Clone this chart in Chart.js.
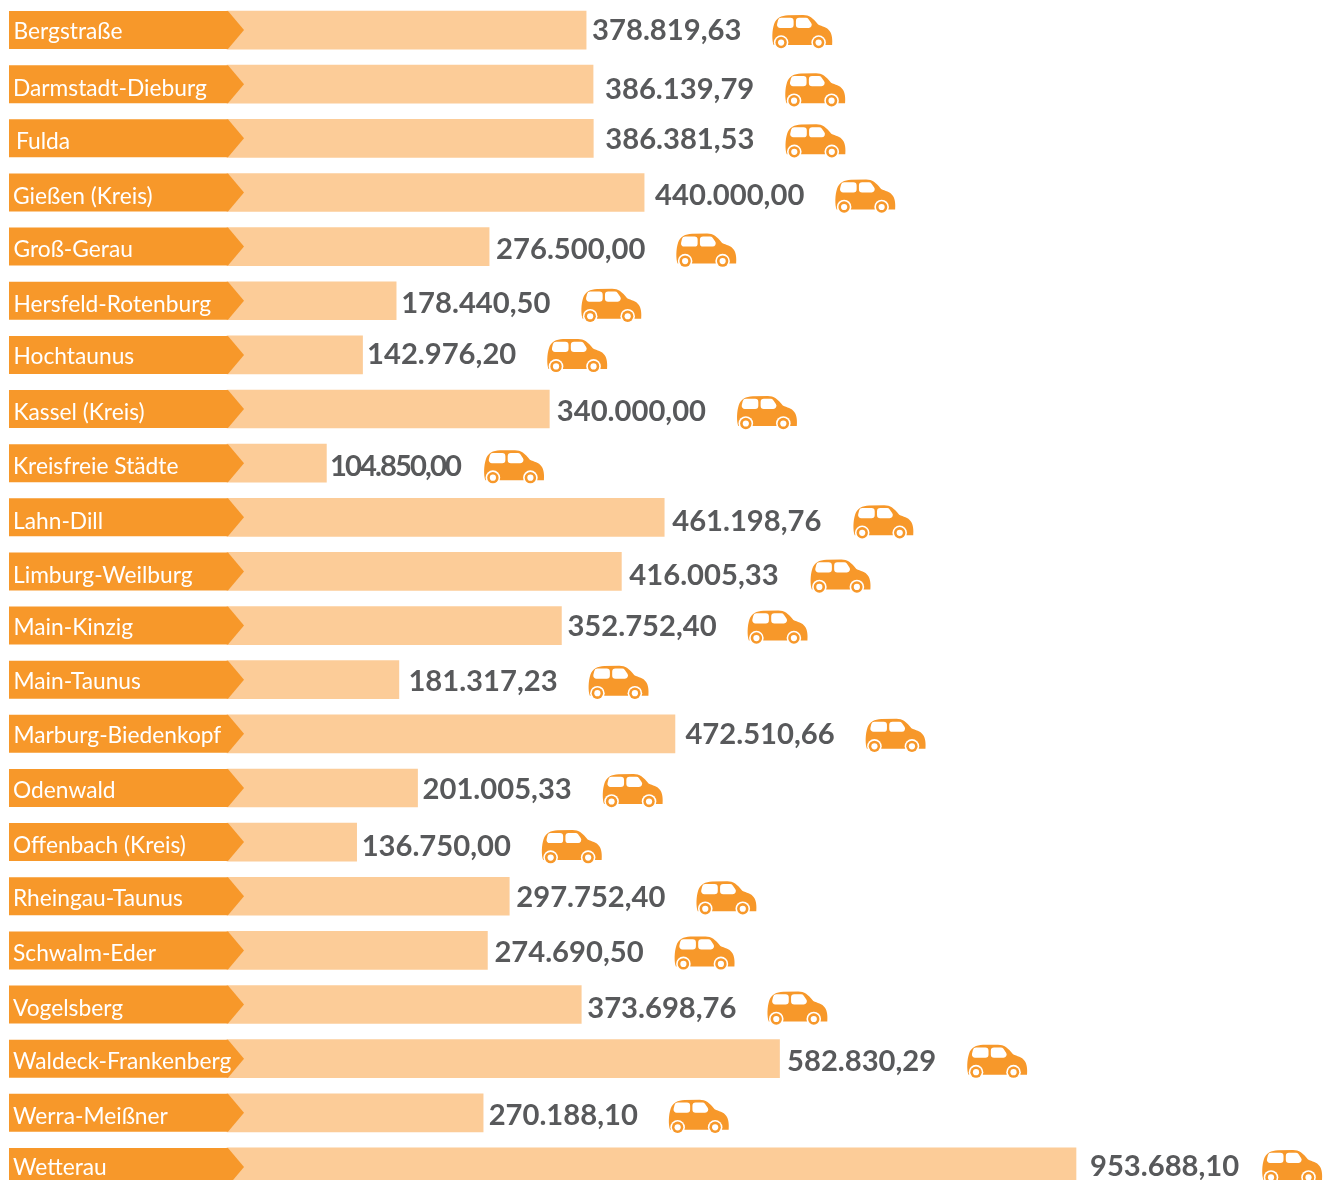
<!DOCTYPE html>
<html lang="de"><head><meta charset="utf-8">
<style>html,body{margin:0;padding:0;background:#fff;overflow:hidden;width:1332px;height:1180px}canvas{position:absolute;left:0;top:0;display:block}</style>
<script src="https://cdn.jsdelivr.net/npm/chart.js@4/dist/chart.umd.min.js"></script>
</head><body><canvas id="c" width="1332" height="1197"></canvas>
<script>
const categories = ["Bergstraße","Darmstadt-Dieburg","Fulda","Gießen (Kreis)","Groß-Gerau","Hersfeld-Rotenburg","Hochtaunus","Kassel (Kreis)","Kreisfreie Städte","Lahn-Dill","Limburg-Weilburg","Main-Kinzig","Main-Taunus","Marburg-Biedenkopf","Odenwald","Offenbach (Kreis)","Rheingau-Taunus","Schwalm-Eder","Vogelsberg","Waldeck-Frankenberg","Werra-Meißner","Wetterau"];
const values = [378819.63,386139.79,386381.53,440000,276500,178440.5,142976.2,340000,104850,461198.76,416005.33,352752.4,181317.23,472510.66,201005.33,136750,297752.4,274690.5,373698.76,582830.29,270188.1,953688.1];

// Layout details of the infographic, kept apart from the data
const valueGap = [6,12,12,11,7,5,4.5,7.5,3.5,8,8,6,9.5,10.5,5,5,7,7,6,7.5,5.5,14];
const carGap = [180,180,180,180,180,180,180,180,154,181,181,180,180,180,180,180,180,180,180,180,180,172];
const labelDy = [2,4,3,4,3,4,2,4,3,4,4,2,2,2,3,4,2,3,4,3,4,1];
const valueDy = [1,5,1,3,3,3,0,3,3,4,4,1,2,1,2,4,1,2,4,3,3,0];
const carDy = [1,5,2,3,3,4,0,3,3,4,4,1,2,1,2,4,1,2,3,2,3,-1];
const labelX = [13.5,13,16,13,13.5,13.5,13.5,13.5,13,13,13,13.5,13.5,13.5,13,13,13,13,13,13,13,13];
const valueSpacing = {8:'-1.9px'};

const BREAK = 582830, COMPRESS = 0.8433;
class BrokenScale extends Chart.LinearScale {
  getPixelForValue(v){
    return super.getPixelForValue(v > BREAK ? BREAK + (v - BREAK) * COMPRESS : v);
  }
}
BrokenScale.id = 'broken';
BrokenScale.defaults = {};
Chart.register(BrokenScale);

const DARK = '#F7982A', LIGHT = '#FCCC98', GREY = '#58595B';
function roundedWindow(ctx, pts, r){
  ctx.moveTo((pts[0][0]+pts[1][0])/2,(pts[0][1]+pts[1][1])/2);
  for (let k=1;k<=pts.length;k++){
    const a=pts[k%pts.length], b=pts[(k+1)%pts.length];
    ctx.arcTo(a[0],a[1],b[0],b[1],r);
  }
  ctx.closePath();
}
function car(ctx, x, cy){
  ctx.save();
  ctx.translate(x, cy - 16);
  ctx.fillStyle = DARK;
  ctx.beginPath();
  ctx.moveTo(1.5,30);
  ctx.bezierCurveTo(-0.5,25,0,15,2,9);
  ctx.bezierCurveTo(4,3,9,0.5,16,0.2);
  ctx.lineTo(31,0);
  ctx.bezierCurveTo(37,0,41,3,46,9.5);
  ctx.bezierCurveTo(50,11.5,55,12,57.5,16);
  ctx.bezierCurveTo(60,19,60.5,25,60,30);
  ctx.closePath();
  ctx.fill();
  ctx.fillStyle = '#fff';
  ctx.beginPath();
  roundedWindow(ctx,[[21.5,2.8],[6.5,2.8],[4,13],[21.5,13]],3.2);
  roundedWindow(ctx,[[23.8,2.8],[35.5,2.8],[42.5,13],[23.8,13]],3.2);
  ctx.fill();
  for (const wx of [9,46.5]){
    ctx.fillStyle='#fff';ctx.beginPath();ctx.arc(wx,27.5,7.3,0,7);ctx.fill();
    ctx.fillStyle=DARK;ctx.beginPath();ctx.arc(wx,27.5,5.7,0,7);ctx.fill();
    ctx.fillStyle='#fff';ctx.beginPath();ctx.arc(wx,27.5,3.1,0,7);ctx.fill();
  }
  ctx.restore();
}
const decor = {
  id:'decor',
  afterDatasetsDraw(chart){
    const {ctx, scales:{x,y}} = chart;
    ctx.save();
    ctx.textBaseline='middle';
    values.forEach((v,i)=>{
      const cy = y.getPixelForValue(i), h = 19;
      ctx.fillStyle = DARK;
      ctx.beginPath();
      ctx.moveTo(9,cy-h);ctx.lineTo(228,cy-h);ctx.lineTo(244,cy);ctx.lineTo(228,cy+h);ctx.lineTo(9,cy+h);
      ctx.closePath();ctx.fill();
      ctx.fillStyle='#fff';
      ctx.font='22.75px Lato';
      ctx.letterSpacing='0px';
      ctx.fillText(categories[i], labelX[i], cy+labelDy[i]);
      const tx = x.getPixelForValue(v)+valueGap[i];
      ctx.fillStyle=GREY;
      ctx.font='bold 29.2px Lato';
      ctx.letterSpacing=valueSpacing[i]||'0px';
      ctx.fillText(v.toLocaleString('de-DE',{minimumFractionDigits:2,maximumFractionDigits:2}), tx, cy+valueDy[i]);
      car(ctx, tx+carGap[i], cy+carDy[i]);
    });
    ctx.restore();
  }
};
new Chart(document.getElementById('c'),{
  type:'bar',
  data:{labels:categories,datasets:[{data:values,backgroundColor:LIGHT,barThickness:38,borderWidth:0}]},
  plugins:[decor],
  options:{
    indexAxis:'y',responsive:false,animation:false,
    layout:{padding:{top:3,bottom:3,left:0,right:0}},
    plugins:{legend:{display:false},tooltip:{enabled:false},title:{display:false}},
    scales:{
      x:{type:'broken',min:-239451,max:1165612,display:false,grid:{display:false}},
      y:{type:'category',display:false,grid:{display:false}}
    }
  }
});
</script></body></html>
